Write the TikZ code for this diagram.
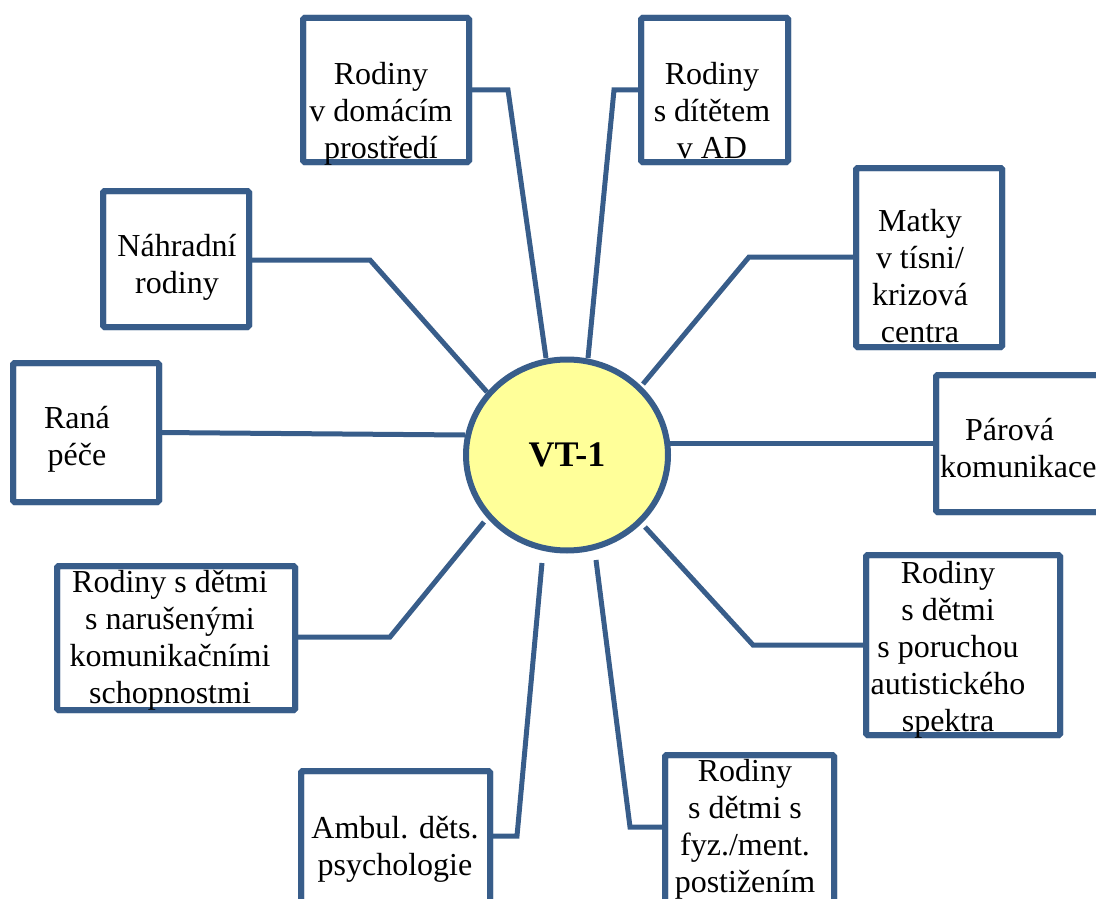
\documentclass[tikz,border=0pt]{standalone}
\usepackage{fontspec}
\setmainfont{Liberation Serif}
\usetikzlibrary{shapes.geometric}
\definecolor{frame}{RGB}{56,93,138}
\definecolor{hub}{RGB}{255,255,153}
\tikzset{
  box/.style={draw=frame, line width=6pt, fill=white, rounded corners=1.5pt, inner sep=0pt, outer sep=0pt},
  conn/.style={draw=frame, line width=5pt},
  lbl/.style={align=center, inner sep=0pt, font=\fontsize{32}{37}\selectfont},
  hubnode/.style={ellipse, draw=frame, line width=6pt, fill=hub, inner sep=0pt, minimum width=202pt, minimum height=191pt, font=\fontsize{36}{40}\selectfont\bfseries}
}
\begin{document}
\begin{tikzpicture}[x=1pt,y=-1pt]
\path[use as bounding box] (0,0) rectangle (1096,899);
\clip (0,0) rectangle (1096,899);
% joints and ends
\coordinate (j1) at (508,90);  \coordinate (e1) at (546,358);
\coordinate (j2) at (614,90);  \coordinate (e2) at (588,358);
\coordinate (j3) at (370,260); \coordinate (e3) at (487,392);
\coordinate (j4) at (749,257); \coordinate (e4) at (643,384);
\coordinate (e5) at (465,435);
\coordinate (e6) at (668,443);
\coordinate (j7) at (390,637); \coordinate (e7) at (484,522);
\coordinate (j8) at (753,645); \coordinate (e8) at (645,527);
\coordinate (j9) at (517,836); \coordinate (e9) at (542,563);
\coordinate (j10) at (630,827); \coordinate (e10) at (596,560);
% boxes
\node[box, minimum width=166pt, minimum height=144pt] (b1) at (386,90) {};
\node[box, minimum width=147pt, minimum height=144pt] (b2) at (714.5,90) {};
\node[box, minimum width=146pt, minimum height=136pt] (b3) at (176,259) {};
\node[box, minimum width=146pt, minimum height=179pt] (b4) at (929,257.5) {};
\node[box, minimum width=146pt, minimum height=139pt] (b5) at (86,432.5) {};
\node[box, minimum width=174pt, minimum height=137pt] (b6) at (1023,443.5) {};
\node[box, minimum width=238pt, minimum height=144pt] (b7) at (176,638) {};
\node[box, minimum width=194pt, minimum height=180pt] (b8) at (963,645) {};
\node[box, minimum width=189pt, minimum height=159pt] (b9) at (395.5,850.5) {};
\node[box, minimum width=169pt, minimum height=175pt] (b10) at (749.5,842.5) {};
% connectors
\draw[conn] (b1.east |- j1) -- (j1) -- (e1);
\draw[conn] (b2.west |- j2) -- (j2) -- (e2);
\draw[conn] (b3.east |- j3) -- (j3) -- (e3);
\draw[conn] (b4.west |- j4) -- (j4) -- (e4);
\draw[conn] (b5.east) -- (e5);
\draw[conn] (b6.west |- e6) -- (e6);
\draw[conn] (b7.east |- j7) -- (j7) -- (e7);
\draw[conn] (b8.west |- j8) -- (j8) -- (e8);
\draw[conn] (b9.east |- j9) -- (j9) -- (e9);
\draw[conn] (b10.west |- j10) -- (j10) -- (e10);
% redraw box borders over connector ends
\foreach \b in {b1,b2,b3,b4,b5,b6,b7,b8,b9,b10}{
  \draw[frame, line width=6pt, rounded corners=1.5pt] (\b.south west) rectangle (\b.north east);
}
% hub
\node[hubnode] (vt) at (567,455) {VT-1};
% labels
\node[lbl] (t1) at (381,114) {Rodiny\\v domácím\\prostředí};
\node[lbl] (t2) at (712,111) {Rodiny\\s dítětem\\v AD};
\node[lbl] (t3) at (177,267) {Náhradní\\rodiny};
\node[lbl] (t4) at (920,276) {Matky\\v tísni/\\krizová\\centra};
\node[lbl] (t5) at (77,439) {Raná\\péče};
\node[lbl, align=left, anchor=west] (t6) at (940,448) {\hspace*{25pt}Párová\\komunikace};
\node[lbl] (t7) at (170,640) {Rodiny s dětmi\\s narušenými\\komunikačními\\schopnostmi};
\node[lbl] (t8) at (948,650) {Rodiny\\s dětmi\\s poruchou\\autistického\\spektra};
\node[lbl] (t9) at (395,849) {Ambul. děts.\\psychologie};
\node[lbl] (t10) at (745,829) {Rodiny\\s dětmi s\\fyz./ment.\\postižením};
\end{tikzpicture}
\end{document}
